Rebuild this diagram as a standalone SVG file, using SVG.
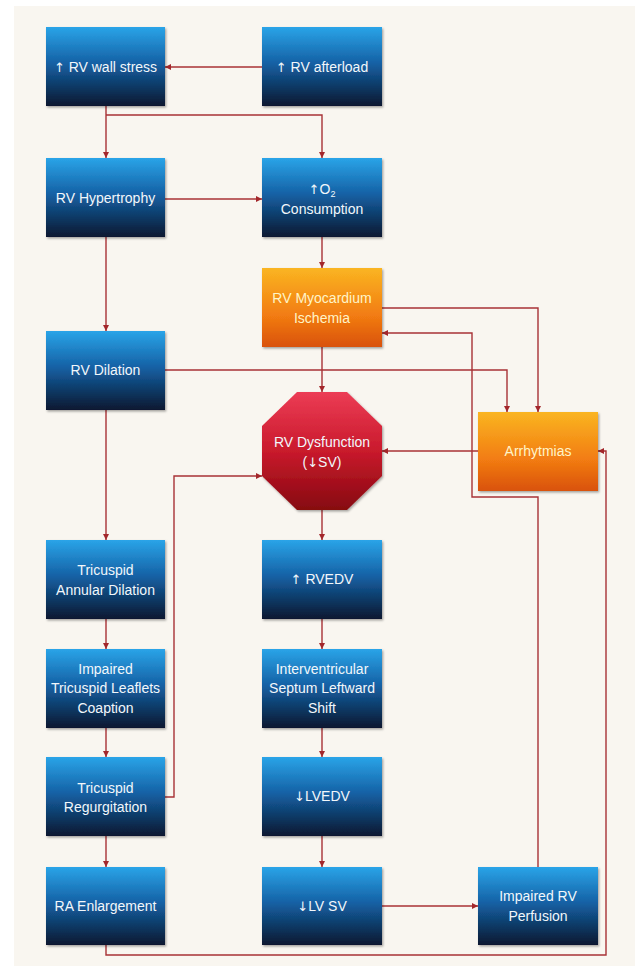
<svg xmlns="http://www.w3.org/2000/svg" width="635" height="966" viewBox="0 0 635 966">
<defs>
<linearGradient id="gBlue" x1="0" y1="0" x2="0" y2="1">
<stop offset="0" stop-color="#2aa4e8"/>
<stop offset="0.45" stop-color="#1562a6"/>
<stop offset="1" stop-color="#091830"/>
</linearGradient>
<linearGradient id="gOrange" x1="0" y1="0" x2="0" y2="1">
<stop offset="0" stop-color="#fab522"/>
<stop offset="0.6" stop-color="#f27c12"/>
<stop offset="1" stop-color="#d9520a"/>
</linearGradient>
<linearGradient id="gRed" x1="0" y1="0" x2="0" y2="1">
<stop offset="0" stop-color="#ec3c55"/>
<stop offset="0.5" stop-color="#c91a2c"/>
<stop offset="1" stop-color="#860810"/>
</linearGradient>
<filter id="sh" x="-10%" y="-10%" width="125%" height="125%">
<feDropShadow dx="1.2" dy="1.5" stdDeviation="1.2" flood-color="#000" flood-opacity="0.35"/>
</filter>
<marker id="arr" viewBox="0 0 10 10" refX="10" refY="5" markerWidth="6" markerHeight="6" markerUnits="userSpaceOnUse" orient="auto">
<path d="M0,0 L10,5 L0,10 z" fill="#a3272b"/>
</marker>
<style>
.blue{fill:url(#gBlue);filter:url(#sh)}
.orange{fill:url(#gOrange);filter:url(#sh)}
.red{fill:url(#gRed);filter:url(#sh)}
text{font-family:"Liberation Sans",Arial,sans-serif;font-size:14px;fill:#f2f7fb;text-anchor:middle}
.ar{font-family:"DejaVu Sans",sans-serif;font-size:13px}
.ot{fill:#fff4c8}
.c path{fill:none;stroke:#a83236;stroke-width:1.4}
.c path.a{marker-end:url(#arr)}
</style>
</defs>
<rect x="0" y="0" width="635" height="966" fill="#ffffff"/>
<rect x="14" y="6" width="621" height="960" fill="#f9f6f0"/>

<g class="c" id="connectors">
<path class="a" d="M262,67 H165"/>
<path class="a" d="M106,106 V158"/>
<path class="a" d="M106,115 H322 V158"/>
<path class="a" d="M165,199 H262"/>
<path class="a" d="M322,237 V268"/>
<path class="a" d="M106,237 V331"/>
<path class="a" d="M322,347 V392"/>
<path class="a" d="M382,308 H538 V412"/>
<path class="a" d="M165,370 H507 V412"/>
<path class="a" d="M478,451 H382"/>
<path class="a" d="M538,867 V497 H472 V333 H382"/>
<path class="a" d="M106,410 V540"/>
<path class="a" d="M106,619 V649"/>
<path class="a" d="M106,728 V757"/>
<path class="a" d="M106,836 V867"/>
<path class="a" d="M165,797 H174 V476 H262"/>
<path class="a" d="M322,510 V540"/>
<path class="a" d="M322,619 V649"/>
<path class="a" d="M322,728 V757"/>
<path class="a" d="M322,836 V867"/>
<path class="a" d="M382,906 H478"/>
<path class="a" d="M106,945 V955 H606 V451 H598"/>
</g>

<g id="wallstress"><rect class="blue" x="46" y="27" width="119" height="79"/><text x="105.5" y="72"><tspan class="ar">↑</tspan> RV wall stress</text></g>
<g id="afterload"><rect class="blue" x="262" y="27" width="120" height="79"/><text x="322" y="72"><tspan class="ar">↑</tspan> RV afterload</text></g>
<g id="hypertrophy"><rect class="blue" x="46" y="158" width="119" height="79"/><text x="105.5" y="203">RV Hypertrophy</text></g>
<g id="o2"><rect class="blue" x="262" y="158" width="120" height="79"/><text x="322" y="194"><tspan class="ar">↑</tspan>O<tspan font-size="9" dy="3">2</tspan></text><text x="322" y="214">Consumption</text></g>
<g id="ischemia"><rect class="orange" x="262" y="268" width="120" height="79"/><text class="ot" x="322" y="303">RV Myocardium</text><text class="ot" x="322" y="323">Ischemia</text></g>
<g id="dilation"><rect class="blue" x="46" y="331" width="119" height="79"/><text x="105.5" y="375">RV Dilation</text></g>
<g id="dysfunction"><polygon class="red" points="297,392 347,392 382,426 382,476 347,510 297,510 262,476 262,426"/><text x="322" y="447">RV Dysfunction</text><text x="322" y="467">(<tspan class="ar">↓</tspan>SV)</text></g>
<g id="arrhytmias"><rect class="orange" x="478" y="412" width="120" height="79"/><text class="ot" x="538" y="456">Arrhytmias</text></g>
<g id="annular"><rect class="blue" x="46" y="540" width="119" height="79"/><text x="105.5" y="575">Tricuspid</text><text x="105.5" y="595">Annular Dilation</text></g>
<g id="rvedv"><rect class="blue" x="262" y="540" width="120" height="79"/><text x="322" y="584"><tspan class="ar">↑</tspan> RVEDV</text></g>
<g id="coaption"><rect class="blue" x="46" y="649" width="119" height="79"/><text x="105.5" y="674">Impaired</text><text x="105.5" y="693">Tricuspid Leaflets</text><text x="105.5" y="713">Coaption</text></g>
<g id="septum"><rect class="blue" x="262" y="649" width="120" height="79"/><text x="322" y="674">Interventricular</text><text x="322" y="693">Septum Leftward</text><text x="322" y="713">Shift</text></g>
<g id="regurgitation"><rect class="blue" x="46" y="757" width="119" height="79"/><text x="105.5" y="793">Tricuspid</text><text x="105.5" y="812">Regurgitation</text></g>
<g id="lvedv"><rect class="blue" x="262" y="757" width="120" height="79"/><text x="322" y="801"><tspan class="ar">↓</tspan>LVEDV</text></g>
<g id="ra"><rect class="blue" x="46" y="867" width="119" height="78"/><text x="105.5" y="911">RA Enlargement</text></g>
<g id="lvsv"><rect class="blue" x="262" y="867" width="120" height="78"/><text x="322" y="911"><tspan class="ar">↓</tspan>LV SV</text></g>
<g id="perfusion"><rect class="blue" x="478" y="867" width="120" height="78"/><text x="538" y="901">Impaired RV</text><text x="538" y="921">Perfusion</text></g>
</svg>
